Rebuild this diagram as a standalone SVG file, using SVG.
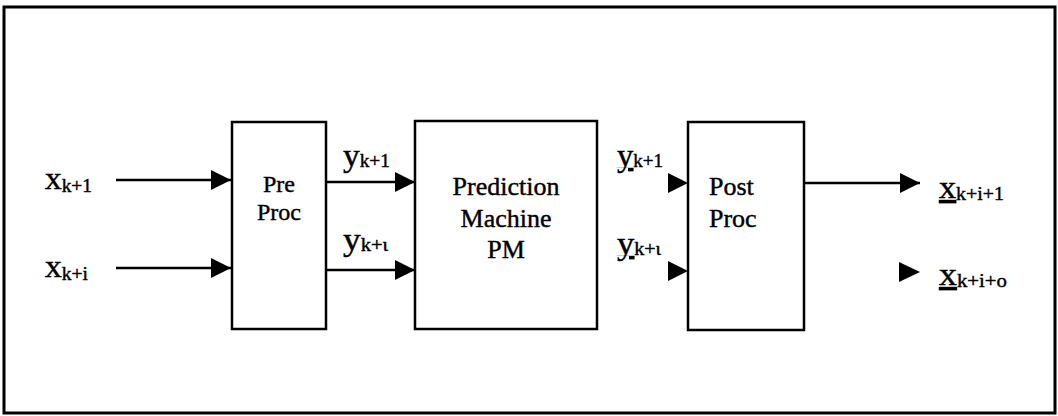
<svg xmlns="http://www.w3.org/2000/svg" width="1058" height="416" viewBox="0 0 1058 416">
<style>
.box{fill:#fff;stroke:#000;stroke-width:2.5}
.ln{stroke:#000;stroke-width:2.5;fill:none}
text{font-family:'Liberation Serif','Times New Roman',serif;fill:#000;stroke:#000;stroke-width:0.4}
.v{font-size:31px}
.s{font-size:18px}
.lab{font-size:24px}
.pm{font-size:26px}
.u{text-decoration:underline}
</style>
<defs>
<marker id="ah" viewBox="0 0 20 20" refX="20" refY="10" markerWidth="20" markerHeight="20" markerUnits="userSpaceOnUse" orient="auto">
<path d="M0,0 L20,10 L0,20 Z" fill="#000"/>
</marker>
</defs>
<rect x="0" y="0" width="1058" height="416" fill="#fff"/>
<rect x="4" y="7" width="1051" height="406" fill="none" stroke="#000" stroke-width="3"/>

<g id="pre" font-family="Liberation Serif, serif">
<rect class="box" x="232" y="122" width="94" height="207"/>
<text class="lab" x="279" y="192" text-anchor="middle">Pre</text>
<text class="lab" x="279" y="220" text-anchor="middle">Proc</text>
</g>
<g id="pm" font-family="Liberation Serif, serif">
<rect class="box" x="415" y="121" width="182" height="208"/>
<text class="pm" x="506" y="195" text-anchor="middle">Prediction</text>
<text class="pm" x="506" y="227" text-anchor="middle">Machine</text>
<text class="pm" x="506" y="258" text-anchor="middle">PM</text>
</g>
<g id="post" font-family="Liberation Serif, serif">
<rect class="box" x="688" y="122" width="116" height="208"/>
<text class="pm" x="709" y="195">Post</text>
<text class="pm" x="709" y="227">Proc</text>
</g>

<g id="labels" font-family="Liberation Serif, serif">
<text x="45" y="189" textLength="47" lengthAdjust="spacingAndGlyphs"><tspan class="v">x</tspan><tspan class="s" dy="3">k+1</tspan></text>
<text x="45" y="277" textLength="43" lengthAdjust="spacingAndGlyphs"><tspan class="v">x</tspan><tspan class="s" dy="3">k+i</tspan></text>
<text x="343" y="166" textLength="47" lengthAdjust="spacingAndGlyphs"><tspan class="v">y</tspan><tspan class="s" dy="1">k+1</tspan></text>
<text x="343" y="250" textLength="45" lengthAdjust="spacingAndGlyphs"><tspan class="v">y</tspan><tspan class="s" dy="1">k+ι</tspan></text>
<text x="617" y="166" textLength="46" lengthAdjust="spacingAndGlyphs"><tspan class="v u">y</tspan><tspan class="s" dy="1">k+1</tspan></text>
<text x="617" y="254" textLength="44" lengthAdjust="spacingAndGlyphs"><tspan class="v u">y</tspan><tspan class="s" dy="1">k+ι</tspan></text>
<text x="939" y="198" textLength="65" lengthAdjust="spacingAndGlyphs"><tspan class="v u">x</tspan><tspan class="s" dy="2">k+i+1</tspan></text>
<text x="939" y="285" textLength="68" lengthAdjust="spacingAndGlyphs"><tspan class="v u">x</tspan><tspan class="s" dy="2">k+i+o</tspan></text>
</g>

<g id="connectors">
<line class="ln" x1="116" y1="180" x2="231" y2="180" marker-end="url(#ah)"/>
<line class="ln" x1="116" y1="268" x2="231" y2="268" marker-end="url(#ah)"/>
<line class="ln" x1="326" y1="182" x2="415" y2="182" marker-end="url(#ah)"/>
<line class="ln" x1="326" y1="270" x2="415" y2="270" marker-end="url(#ah)"/>
<path d="M668,173 L688,183 L668,193 Z" fill="#000"/>
<path d="M668,261 L688,271 L668,281 Z" fill="#000"/>
<line class="ln" x1="804" y1="183" x2="920" y2="183" marker-end="url(#ah)"/>
<path d="M899,262 L920,272 L899,282 Z" fill="#000"/>
</g>
</svg>
